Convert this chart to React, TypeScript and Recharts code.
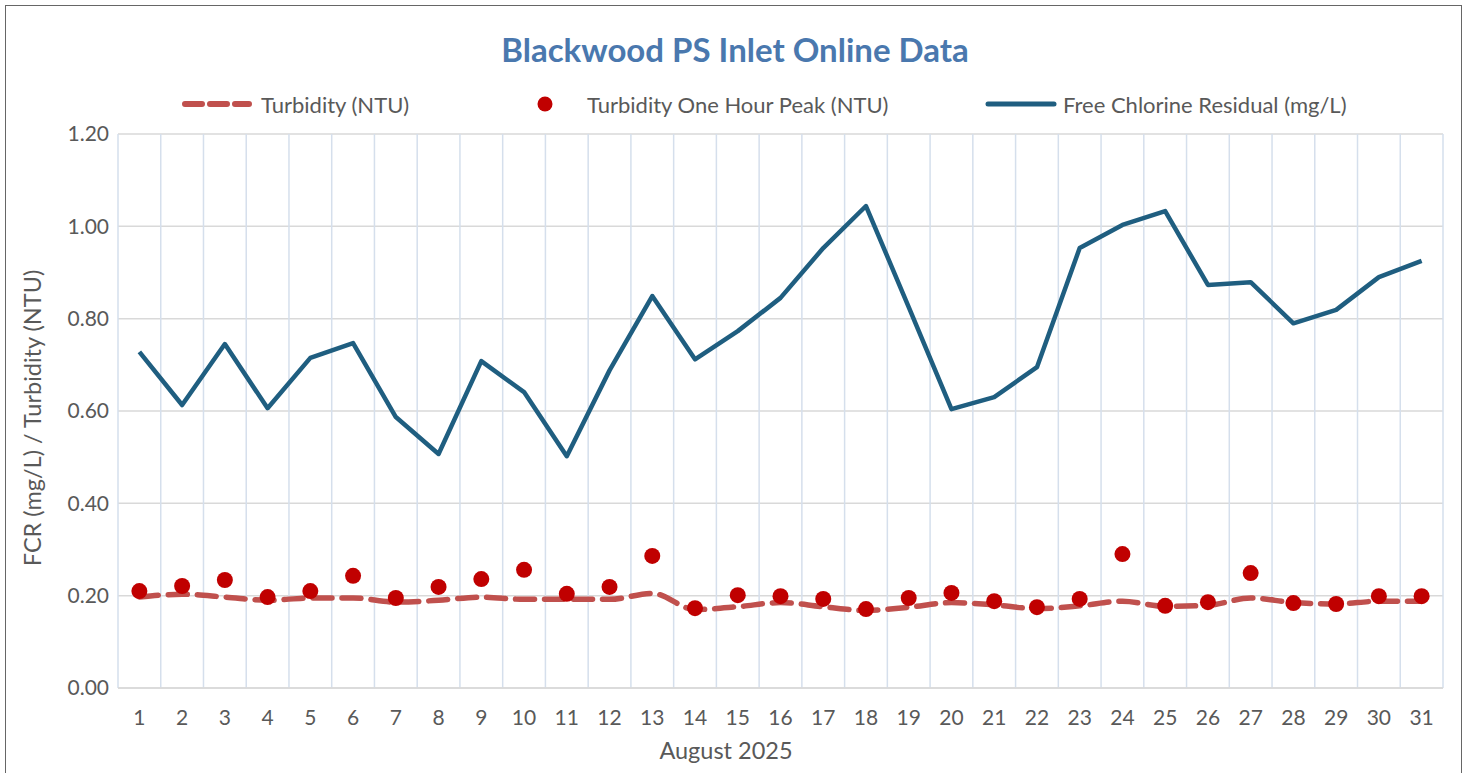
import { ComposedChart, Line, XAxis, YAxis, CartesianGrid } from 'recharts';

const days = Array.from({ length: 31 }, (_, i) => String(i + 1));

const fcr = [
    0.728, 0.613, 0.745, 0.606, 0.715, 0.747, 0.587, 0.507, 0.708, 0.641,
    0.502, 0.688, 0.849, 0.712, 0.773, 0.845, 0.953, 1.044, 0.825, 0.604,
    0.630, 0.695, 0.953, 1.003, 1.033, 0.873, 0.879, 0.790, 0.819, 0.890,
    0.925,
];

const turbidity = [
    0.197, 0.203, 0.197, 0.190, 0.195, 0.195, 0.186, 0.190, 0.197, 0.192,
    0.192, 0.192, 0.205, 0.170, 0.176, 0.185, 0.176, 0.168, 0.175, 0.185,
    0.180, 0.172, 0.178, 0.188, 0.177, 0.179, 0.195, 0.185, 0.182, 0.188,
    0.188,
];

const peak = [
    0.210, 0.221, 0.234, 0.197, 0.210, 0.243, 0.195, 0.219, 0.236, 0.256,
    0.204, 0.219, 0.286, 0.173, 0.201, 0.199, 0.193, 0.171, 0.195, 0.206,
    0.188, 0.175, 0.193, 0.290, 0.178, 0.186, 0.249, 0.184, 0.182, 0.199,
    0.199,
];

const yTicks = [0, 0.2, 0.4, 0.6, 0.8, 1.0, 1.2];

const data = days.map((day, i) => ({
    day,
    fcr: fcr[i],
    turbidity: turbidity[i],
    peak: peak[i],
}));

const FONT = 'Lato, "Open Sans", sans-serif';
const TEXT = '#595959';
const RED = '#C0504D';
const BLUE = '#1F5E80';

function ChartLegend() {
    return (
        <div style={{ position: 'absolute', left: 0, top: 90, width: 1470, height: 30, fontFamily: FONT, fontSize: 22, color: TEXT }}>
            <div style={{ position: 'absolute', left: 181, top: 0, display: 'flex', alignItems: 'center' }}>
                <svg width={72} height={28}>
                    <line x1={4} y1={14} x2={68} y2={14} stroke={RED} strokeWidth={6} strokeDasharray="17 8" strokeLinecap="round" />
                </svg>
                <span style={{ marginLeft: 8 }}>Turbidity (NTU)</span>
            </div>
            <div style={{ position: 'absolute', left: 535, top: 0, display: 'flex', alignItems: 'center' }}>
                <svg width={20} height={28}>
                    <circle cx={10} cy={14} r={7.5} fill="#C00000" />
                </svg>
                <span style={{ marginLeft: 32 }}>Turbidity One Hour Peak (NTU)</span>
            </div>
            <div style={{ position: 'absolute', left: 984, top: 0, display: 'flex', alignItems: 'center' }}>
                <svg width={74} height={28}>
                    <line x1={4} y1={14} x2={70} y2={14} stroke={BLUE} strokeWidth={5} strokeLinecap="round" />
                </svg>
                <span style={{ marginLeft: 5 }}>Free Chlorine Residual (mg/L)</span>
            </div>
        </div>
    );
}

export default function App() {
    return (
        <div style={{ position: 'absolute', left: 0, top: 0, width: 1470, height: 773, background: '#fff', overflow: 'hidden' }}>
            <div style={{ position: 'absolute', left: 5, top: 5, width: 1457, height: 800, border: '1.5px solid #666', boxSizing: 'border-box' }} />
            <div style={{ position: 'absolute', left: 0, top: 29, width: 1470, textAlign: 'center', fontFamily: FONT, fontWeight: 700, fontSize: 33, lineHeight: '40px', color: '#4A78AE' }}>
                Blackwood PS Inlet Online Data
            </div>
            <ChartLegend />
            <div style={{ position: 'absolute', left: 0, top: 735, width: 1452, textAlign: 'center', fontFamily: FONT, fontSize: 23.5, lineHeight: '30px', color: TEXT }}>
                August 2025
            </div>
            <div style={{ position: 'absolute', left: 32, top: 418, transform: 'translate(-50%, -50%) rotate(-90deg)', whiteSpace: 'nowrap', fontFamily: FONT, fontSize: 23.5, lineHeight: '30px', color: TEXT }}>
                FCR (mg/L) / Turbidity (NTU)
            </div>
            <div style={{ position: 'absolute', left: 0, top: 0 }}>
                <ComposedChart width={1470} height={773} data={data} margin={{ top: 134, right: 27, bottom: 0, left: 0 }}>
                    <CartesianGrid vertical={false} stroke="#D9D9D9" strokeWidth={1.5} />
                    <CartesianGrid
                        horizontal={false}
                        stroke="#D5DFEC"
                        strokeWidth={1.5}
                        verticalCoordinatesGenerator={({ offset }: any) =>
                            Array.from({ length: days.length + 1 }, (_, i) => offset.left + (i * offset.width) / days.length)
                        }
                    />
                    <XAxis
                        dataKey="day"
                        scale="band"
                        interval={0}
                        tickLine={false}
                        axisLine={{ stroke: '#D9D9D9', strokeWidth: 1.5 }}
                        tickSize={0}
                        tickMargin={22}
                        height={85}
                        tick={{ fill: TEXT, fontSize: 21, fontFamily: FONT }}
                    />
                    <YAxis
                        width={118}
                        domain={[0, 1.2]}
                        ticks={yTicks}
                        tickFormatter={(v: number) => v.toFixed(2)}
                        tickLine={false}
                        axisLine={false}
                        tickSize={0}
                        tickMargin={9}
                        tick={{ fill: TEXT, fontSize: 21, fontFamily: FONT }}
                    />
                    <Line
                        dataKey="turbidity"
                        name="Turbidity (NTU)"
                        type="monotone"
                        stroke={RED}
                        strokeWidth={5.5}
                        strokeDasharray="19 10"
                        strokeLinecap="round"
                        dot={false}
                        activeDot={false}
                        isAnimationActive={false}
                    />
                    <Line
                        dataKey="peak"
                        name="Turbidity One Hour Peak (NTU)"
                        stroke="none"
                        dot={{ r: 8, fill: '#C00000', stroke: '#C00000', strokeWidth: 0 }}
                        activeDot={false}
                        isAnimationActive={false}
                    />
                    <Line
                        dataKey="fcr"
                        name="Free Chlorine Residual (mg/L)"
                        type="linear"
                        stroke={BLUE}
                        strokeWidth={4.5}
                        strokeLinejoin="round"
                        dot={false}
                        activeDot={false}
                        isAnimationActive={false}
                    />
                </ComposedChart>
            </div>
        </div>
    );
}
